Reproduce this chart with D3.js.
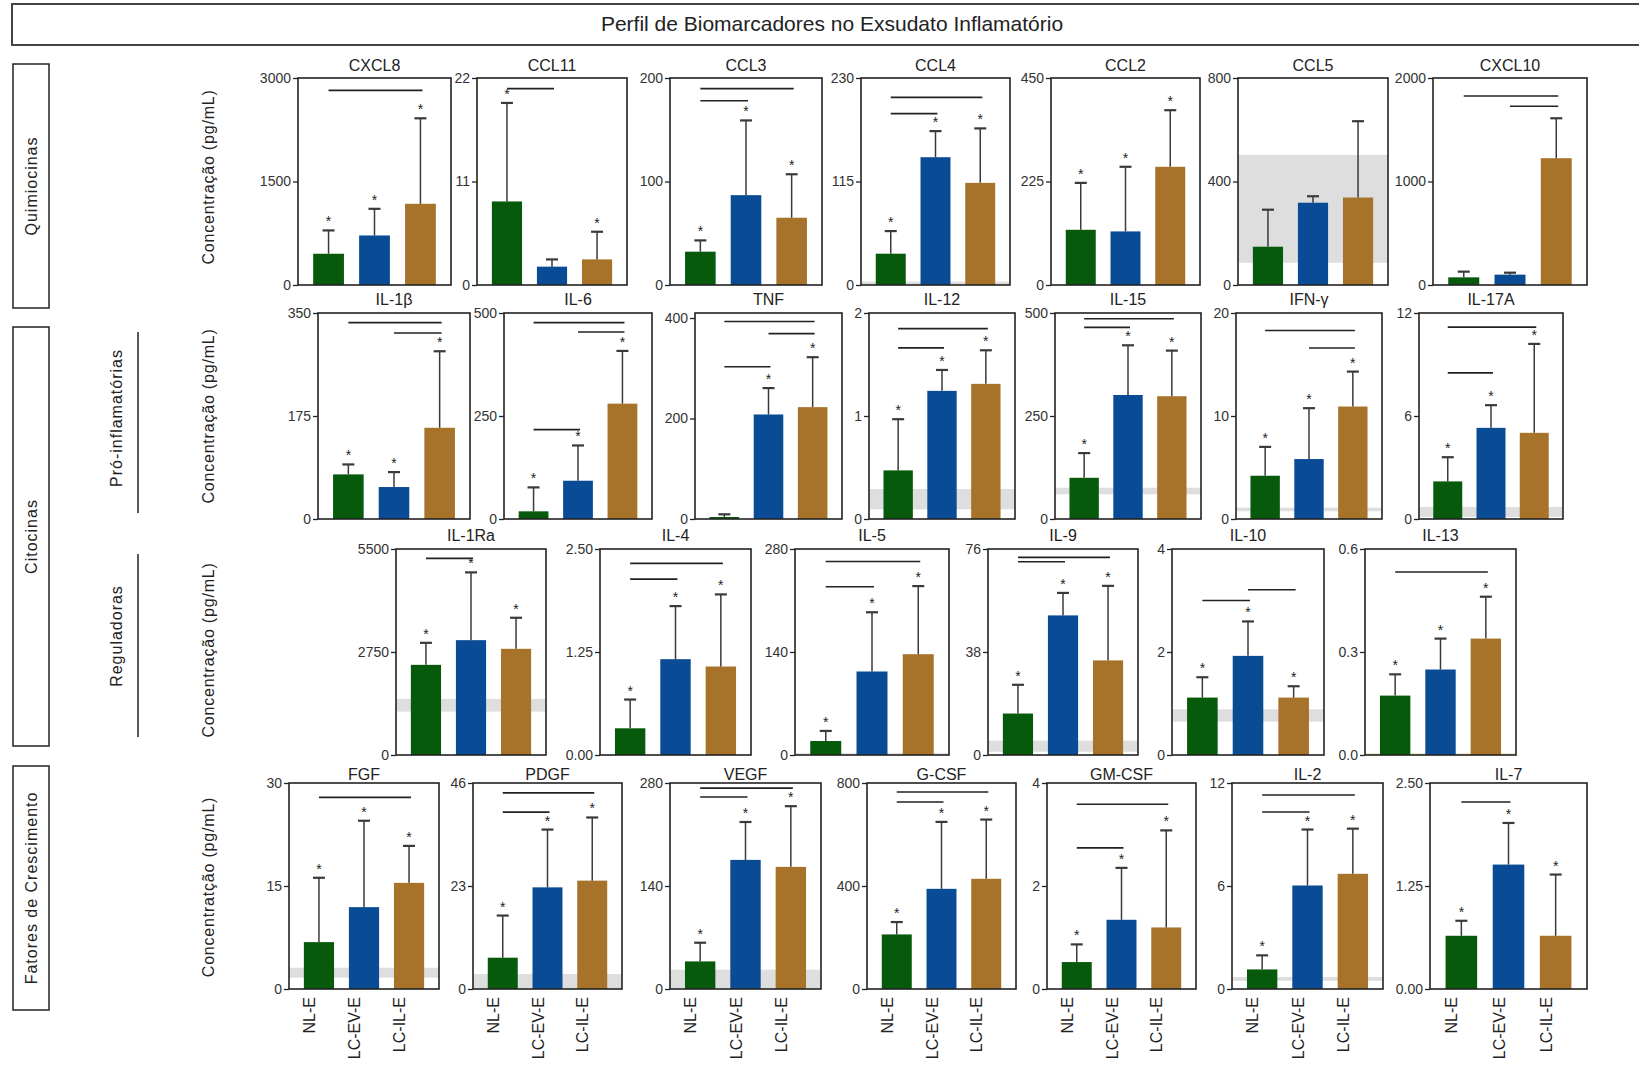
<!DOCTYPE html>
<html>
<head>
<meta charset="utf-8">
<script src="https://cdn.jsdelivr.net/npm/d3@7"></script>
<style>
	body { margin: 0; background: #fff; }
	text { font-family: "Liberation Sans", Arial, sans-serif; fill: #222; }
</style>
</head>
<body>
<script>
// groups + colours
var groups = ['NL-E', 'LC-EV-E', 'LC-IL-E'];
var colors = ['#075a0b', '#0a4b95', '#a7722a'];

// one entry per panel, same order everywhere
var markers = ['CXCL8','CCL11','CCL3','CCL4','CCL2','CCL5','CXCL10',
	'IL-1β','IL-6','TNF','IL-12','IL-15','IFN-γ','IL-17A',
	'IL-1Ra','IL-4','IL-5','IL-9','IL-10','IL-13',
	'FGF','PDGF','VEGF','G-CSF','GM-CSF','IL-2','IL-7'];
var rowSizes = [7, 7, 6, 7];

var tickLabels = [
	['0','1500','3000'], ['0','11','22'], ['0','100','200'], ['0','115','230'], ['0','225','450'], ['0','400','800'], ['0','1000','2000'],
	['0','175','350'], ['0','250','500'], ['0','200','400'], ['0','1','2'], ['0','250','500'], ['0','10','20'], ['0','6','12'],
	['0','2750','5500'], ['0.00','1.25','2.50'], ['0','140','280'], ['0','38','76'], ['0','2','4'], ['0.0','0.3','0.6'],
	['0','15','30'], ['0','23','46'], ['0','140','280'], ['0','400','800'], ['0','2','4'], ['0','6','12'], ['0.00','1.25','2.50']
];

// mean per group
var means = [
	[453, 718, 1177], [8.88, 1.95, 2.72], [32.2, 86.8, 65], [34.8, 142, 113.5], [120, 116.5, 257], [148, 318, 338], [74, 100, 1225],
	[75.8, 54.3, 155], [18.6, 92.9, 280], [4, 208, 222.6], [0.472, 1.244, 1.312], [100, 301, 298], [4.2, 5.82, 10.92], [2.19, 5.31, 5.02],
	[2407, 3066, 2835], [0.324, 1.163, 1.074], [19, 113.5, 137], [15.3, 51.5, 34.9], [1.115, 1.925, 1.115], [0.173, 0.249, 0.339],
	[6.83, 11.92, 15.46], [6.99, 22.7, 24.2], [37.5, 175.5, 166], [212, 389, 428], [0.523, 1.344, 1.195], [1.14, 6.03, 6.71], [0.646, 1.51, 0.646]
];

// top of the error bar (mean + sd)
var errTops = [
	[791, 1104, 2416], [19.35, 2.72, 5.66], [43.1, 159, 107], [59.9, 171, 174], [222, 257, 380], [291, 343, 633], [129, 119, 1611],
	[92.7, 79.7, 285], [76.7, 178.5, 408], [9.3, 260.5, 322], [0.969, 1.447, 1.638], [160, 421.6, 408.7], [7.0, 10.76, 14.31], [3.6, 6.63, 10.2],
	[2995, 4876, 3664], [0.673, 1.807, 1.949], [32.7, 194, 229.6], [25.9, 59.8, 62.4], [1.51, 2.593, 1.335], [0.235, 0.339, 0.461],
	[16.2, 24.5, 20.84], [16.4, 35.6, 38.3], [62.9, 227, 248.5], [260, 649, 658], [0.866, 2.352, 3.08], [1.96, 9.29, 9.34], [0.828, 2.015, 1.389]
];

// asterisk over the bar (1 = yes)
var stars = [
	[1,1,1], [1,0,1], [1,1,1], [1,1,1], [1,1,1], [0,0,0], [0,0,0],
	[1,1,1], [1,1,1], [0,1,1], [1,1,1], [1,1,1], [1,1,1], [1,1,1],
	[1,1,1], [1,1,1], [1,1,1], [1,1,1], [1,1,1], [1,1,1],
	[1,1,1], [1,1,1], [1,1,1], [1,1,1], [1,1,1], [1,1,1], [1,1,1]
];

// comparison lines: [from group, to group, value]
var sigLines = [
	[[0,2,2821]], [[0,1,20.87]], [[0,2,189.7],[0,1,178]], [[0,2,208.5],[0,1,190.4]], [], [], [[0,2,1826],[1,2,1727]],
	[[0,2,333.6],[1,2,316]], [[0,2,476.6],[1,2,454],[0,1,217]], [[0,2,393],[1,2,369],[0,1,303]], [[0,2,1.848],[0,1,1.661]], [[0,2,486],[0,1,465]], [[0,2,18.3],[1,2,16.6]], [[0,2,11.18],[0,1,8.51]],
	[[0,1,5250]], [[0,2,2.326],[0,1,2.135]], [[0,2,263],[0,1,228.7]], [[0,2,72.9],[0,1,71.3]], [[0,1,3.0],[1,2,3.21]], [[0,2,0.533]],
	[[0,2,27.9]], [[0,2,43.8],[0,1,39.5]], [[0,2,273],[0,1,261]], [[0,2,765],[0,1,726]], [[0,2,3.586],[0,1,2.74]], [[0,2,11.3],[0,1,10.31]], [[0,1,2.27]]
];

// reference range (healthy), [low, high] or null
var refRanges = [
	null, null, null, [0, 3.7], null, [86, 503], null,
	null, null, null, [0.094, 0.291], [60, 76], [0.75, 1.1], [0.12, 0.7],
	[1159, 1497], null, [0, 2.5], [1.2, 5.3], [0.648, 0.888], [0, 0.005],
	[1.65, 3.1], [0, 3.34], [0, 26.2], null, null, [0.48, 0.7], null
];

// ---- layout ----
var rowTop = [78, 313, 549, 783];
var rowBottom = [285, 519, 755, 989];
var titleGap = [7, 8, 8, 3];
var panelEdges = [
	[298,451],[477,627],[670,822],[861,1010],[1051,1200],[1238,1388],[1433,1587],
	[318,470],[504,652],[695,842],[869,1015],[1055,1201],[1236,1382],[1419,1563],
	[396,546],[600,751],[795,949],[988,1138],[1172,1324],[1365,1516],
	[289,439],[473,622],[670,821],[867,1016],[1047,1196],[1232,1383],[1430,1587]
];
var yTitleCenter = [177, 416, 650, 887];

var svg = d3.select('body')
	.append('svg')
	.attr('width', 1639)
	.attr('height', 1066);

// title box
svg.append('rect')
	.attr('x', 12).attr('y', 4)
	.attr('width', 1660).attr('height', 41)
	.style('fill', 'none')
	.style('stroke', '#444')
	.style('stroke-width', 2);
svg.append('text')
	.attr('x', 832).attr('y', 31)
	.style('text-anchor', 'middle')
	.style('font-size', '21px')
	.text('Perfil de Biomarcadores no Exsudato Inflamatório');

// category boxes on the left
var catBoxes = [
	{ label: 'Quimiocinas', y0: 64, y1: 308 },
	{ label: 'Citocinas', y0: 327, y1: 746 },
	{ label: 'Fatores de Crescimento', y0: 766, y1: 1010 }
];
catBoxes.forEach(function(b) {
	svg.append('rect')
		.attr('x', 13).attr('y', b.y0)
		.attr('width', 36).attr('height', b.y1 - b.y0)
		.style('fill', 'none')
		.style('stroke', '#222')
		.style('stroke-width', 1.5);
	var cy = (b.y0 + b.y1) / 2;
	svg.append('text')
		.attr('transform', 'translate(31,' + cy + ') rotate(-90)')
		.attr('dy', '0.35em')
		.style('text-anchor', 'middle')
		.style('font-size', '16px')
		.style('letter-spacing', '1px')
		.text(b.label);
});

// cytokine sub groups
var subGroups = [
	{ label: 'Pró-inflamatórias', cy: 418, y0: 332, y1: 513 },
	{ label: 'Reguladoras', cy: 636, y0: 554, y1: 737 }
];
subGroups.forEach(function(s) {
	svg.append('text')
		.attr('transform', 'translate(116,' + s.cy + ') rotate(-90)')
		.attr('dy', '0.35em')
		.style('text-anchor', 'middle')
		.style('font-size', '16px')
		.style('letter-spacing', '1px')
		.text(s.label);
	svg.append('line')
		.attr('x1', 138).attr('x2', 138)
		.attr('y1', s.y0).attr('y2', s.y1)
		.style('stroke', '#222')
		.style('stroke-width', 1.5);
});

// y axis titles
yTitleCenter.forEach(function(cy, r) {
	svg.append('text')
		.attr('transform', 'translate(208,' + cy + ') rotate(-90)')
		.attr('dy', '0.35em')
		.style('text-anchor', 'middle')
		.style('font-size', '16px')
		.style('letter-spacing', '0.8px')
		.text(r === 3 ? 'Concentratção (pg/mL)' : 'Concentração (pg/mL)');
});

// panels
var idx = 0;
rowSizes.forEach(function(n, r) {
	for (var k = 0; k < n; k++) {
		drawPanel(idx, r);
		idx++;
	}
});

function drawPanel(i, r) {
	var left = panelEdges[i][0], right = panelEdges[i][1];
	var top = rowTop[r], bottom = rowBottom[r];
	var labels = tickLabels[i];
	var ticks = labels.map(Number);
	var inset = markers[i] === 'TNF' ? 5 : 0;

	var y = d3.scaleLinear()
		.domain([0, ticks[ticks.length - 1]])
		.range([bottom, top + inset]);
	var x = d3.scaleBand()
		.domain(groups)
		.range([left, right])
		.paddingInner(0.33)
		.paddingOuter(0.33);

	var g = svg.append('g').classed('panel', true);

	// reference range band
	var rr = refRanges[i];
	if (rr) {
		g.append('rect')
			.attr('x', left).attr('width', right - left)
			.attr('y', y(rr[1]))
			.attr('height', Math.max(2, y(rr[0]) - y(rr[1])))
			.style('fill', markers[i] === 'IL-13' ? '#e6e3bd' : '#dedede');
	}

	// bars
	var rows = groups.map(function(gname, j) {
		return { group: gname, mean: means[i][j], err: errTops[i][j], star: stars[i][j], color: colors[j] };
	});

	g.selectAll('.bar')
		.data(rows)
		.enter()
		.append('rect')
		.classed('bar', true)
		.attr('x', function(d) { return x(d.group); })
		.attr('width', x.bandwidth())
		.attr('y', function(d) { return y(d.mean); })
		.attr('height', function(d) { return bottom - y(d.mean); })
		.style('fill', function(d) { return d.color; });

	// error bars
	var cx = function(d) { return x(d.group) + x.bandwidth() / 2; };
	g.selectAll('.err')
		.data(rows)
		.enter()
		.append('line')
		.classed('err', true)
		.attr('x1', cx).attr('x2', cx)
		.attr('y1', function(d) { return y(d.mean); })
		.attr('y2', function(d) { return y(d.err); })
		.style('stroke', '#3a3a3a')
		.style('stroke-width', 1.5);
	g.selectAll('.cap')
		.data(rows)
		.enter()
		.append('line')
		.classed('cap', true)
		.attr('x1', function(d) { return cx(d) - 6; })
		.attr('x2', function(d) { return cx(d) + 6; })
		.attr('y1', function(d) { return y(d.err); })
		.attr('y2', function(d) { return y(d.err); })
		.style('stroke', '#3a3a3a')
		.style('stroke-width', 2.2);

	// asterisks
	g.selectAll('.star')
		.data(rows.filter(function(d) { return d.star; }))
		.enter()
		.append('text')
		.classed('star', true)
		.attr('x', cx)
		.attr('y', function(d) { return y(d.err) - 4; })
		.style('text-anchor', 'middle')
		.style('font-size', '14px')
		.text('*');

	// comparison lines
	g.selectAll('.sig')
		.data(sigLines[i])
		.enter()
		.append('line')
		.classed('sig', true)
		.attr('x1', function(d) { return x(groups[d[0]]) + x.bandwidth() / 2; })
		.attr('x2', function(d) { return x(groups[d[1]]) + x.bandwidth() / 2 + 2; })
		.attr('y1', function(d) { return y(d[2]); })
		.attr('y2', function(d) { return y(d[2]); })
		.style('stroke', '#222')
		.style('stroke-width', 1.6);

	// frame
	g.append('rect')
		.attr('x', left).attr('y', top)
		.attr('width', right - left).attr('height', bottom - top)
		.style('fill', 'none')
		.style('stroke', '#222')
		.style('stroke-width', 1.6);

	// y axis
	var axis = g.append('g')
		.attr('transform', 'translate(' + left + ',0)')
		.call(d3.axisLeft(y)
			.tickValues(ticks)
			.tickFormat(function(d, j) { return labels[j]; })
			.tickSize(5)
			.tickSizeOuter(0)
			.tickPadding(2));
	axis.select('.domain').remove();
	axis.selectAll('line').style('stroke', '#222').style('stroke-width', 1.3);
	axis.selectAll('text')
		.style('font-size', '14px')
		.style('font-family', '"Liberation Sans", Arial, sans-serif')
		.style('fill', '#333');

	// panel title
	g.append('text')
		.attr('x', (left + right) / 2)
		.attr('y', top - titleGap[r])
		.style('text-anchor', 'middle')
		.style('font-size', '16px')
		.text(markers[i]);

	// group labels on the bottom row
	if (r === 3) {
		g.selectAll('.xlab')
			.data(groups)
			.enter()
			.append('text')
			.classed('xlab', true)
			.attr('transform', function(d) {
				return 'translate(' + (x(d) + x.bandwidth() / 2 - 4) + ',' + (bottom + 8) + ') rotate(-90)';
			})
			.style('text-anchor', 'end')
			.style('font-size', '16px')
			.text(function(d) { return d; });
	}
}
</script>
</body>
</html>
